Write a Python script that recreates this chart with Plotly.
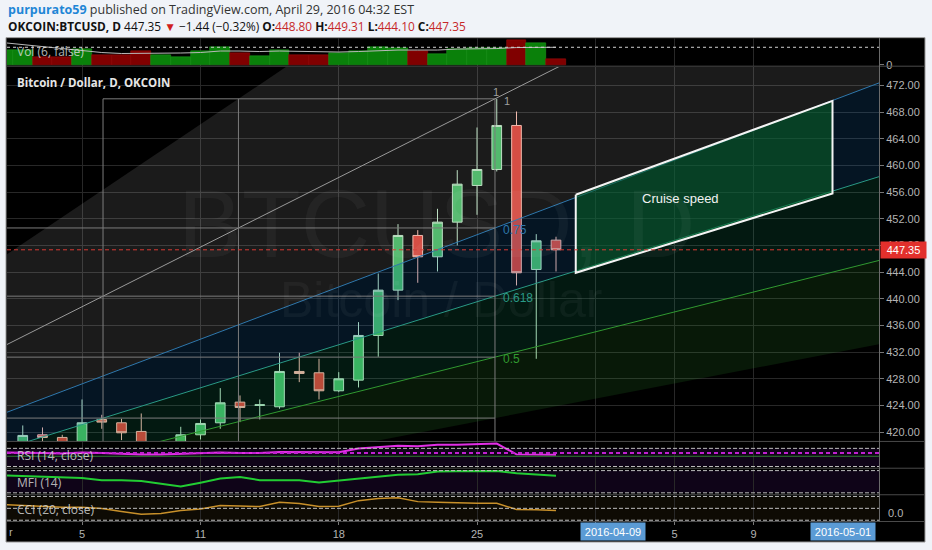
import plotly.graph_objects as go
import pandas as pd

# ---------------- data ----------------
dates = [f"2016-04-{d:02d}" for d in range(1, 30)]
opens = [417.5, 418.2, 419.6, 419.2, 418.3, 421.9, 421.4, 420.1, 418.0, 418.4,
         419.6, 421.4, 424.5, 424.0, 423.8, 429.1, 428.9, 426.2, 427.8, 434.5,
         441.3, 449.5, 446.3, 451.5, 457.0, 459.4, 466.0, 444.4, 448.80]
highs = [418.4, 421.0, 420.7, 419.6, 424.9, 422.6, 422.0, 422.8, 418.55, 420.8,
         421.9, 426.6, 425.5, 424.9, 431.9, 431.9, 431.0, 429.0, 436.5, 443.8,
         451.2, 450.3, 453.5, 459.3, 465.7, 470.0, 468.1, 449.7, 449.31]
lows = [416.2, 417.6, 418.4, 417.9, 417.8, 420.5, 418.8, 417.9, 416.8, 417.9,
        418.9, 420.5, 421.5, 421.9, 423.5, 427.5, 424.9, 426.0, 426.7, 431.3,
        439.8, 442.4, 444.1, 448.0, 452.6, 459.1, 442.0, 431.0, 444.10]
closes = [418.2, 419.5, 419.2, 418.3, 421.4, 421.5, 419.9, 418.0, 418.3, 419.6,
          421.3, 424.4, 423.7, 424.1, 429.1, 428.8, 426.2, 428.0, 434.5, 441.3,
          449.5, 446.3, 451.5, 457.2, 459.4, 466.0, 443.9, 448.7, 447.35]
volume = [1430, 1430, 760, 760, 1530, 930, 930, 1360, 1000, 760,
          1330, 1760, 1160, 830, 1500, 930, 930, 1200, 1330, 1730,
          1660, 1330, 1100, 1600, 1660, 1660, 2430, 2160, 530]
volume_ma = [2230, 2030, 1830, 1630, 1480, 1230, 1130, 1130, 1130, 1180,
             1230, 1380, 1380, 1330, 1380, 1330, 1280, 1280, 1330, 1430,
             1480, 1480, 1480, 1580, 1580, 1630, 1730, 1780, 1760]
volume_level = 1760
rsi = [60.9, 60.9, 59.9, 58.8, 60.9, 59.9, 57.8, 56.7, 56.7, 57.8,
       58.8, 60.9, 59.9, 59.9, 62.0, 62.0, 60.9, 61.6, 69.4, 72.5,
       75.7, 74.6, 77.8, 78.2, 78.8, 80.5, 56.7, 56.1, 56.1]
rsi_bands = [70, 30]
rsi_marks = [59.5, 52.5]
mfi = [67.1, 65.8, 64.5, 62.0, 60.2, 54.2, 54.2, 51.7, 43.9, 37.0,
       47.3, 58.6, 62.7, 54.2, 54.2, 54.2, 47.8, 53.5, 57.6, 63.3,
       68.9, 70.5, 77.4, 78.2, 79.2, 79.2, 73.0, 68.9, 66.4]
mfi_bands = [80, 20]
cci = [31.7, 23.5, 15.2, 9.5, 9.5, -1.2, -25.9, -50.6, -42.4, -17.7,
       -5.3, 23.5, 19.3, 15.2, 50.6, 39.9, 15.2, 17.7, 64.6, 83.5,
       89.3, 56.4, 50.6, 45.7, 42.4, 42.4, -9.5, -11.9, -17.7]
cci_bands = [100, 0, -100]
last_price = 447.35

price_ticks = list(range(420, 473, 4))
date_tickvals = ["2016-04-05", "2016-04-11", "2016-04-18", "2016-04-25",
                 "2016-05-01", "2016-05-05", "2016-05-09"]
date_ticktext = ["5", "11", "18", "25", "", "5", "9"]

# Fib speed resistance fan drawing
fan_start = ("2016-03-04 23:00", 392.5)
fan_end = ("2016-04-25 21:50", 470.0)
fan_levels = [1, 0.75, 0.618, 0.5, 0.382]
fan_time_levels = [0.618, 0.75]
fan_far_time = "2016-05-25"
fan_far_price = 520

# "Cruise speed" box
cruise_t = ["2016-04-30", "2016-05-13", "2016-05-13", "2016-04-30"]
cruise_p = [455.6, 469.7, 455.8, 443.9]
cruise_label = ("2016-05-05 07:00", 455.0)

# ---------------- helpers ----------------
W, H = 932, 550
def PX(x): return x / W
def PY(y): return 1 - y / H

BG = "#f0f3f8"
GRID = "#282828"
AXF = dict(family="Liberation Sans, Arial", size=11, color="#b4b4b4")

tA, pA = pd.Timestamp(fan_start[0]), fan_start[1]
tB, pB = pd.Timestamp(fan_end[0]), fan_end[1]
tF = pd.Timestamp(fan_far_time)
dt = tB - tA
ratio = (tF - tA) / dt

def lvl_price(L):
    return pA + L * (pB - pA)

def far_price(L):
    return pA + L * (pB - pA) * ratio

def time_line_at(tl, price):
    return tA + tl * dt * ((price - pA) / (pB - pA))

fig = go.Figure()

# fan fills
t75 = time_line_at(0.75, fan_far_price)
fig.add_trace(go.Scatter(x=[tA, t75, tF, tF, tA],
                         y=[pA, fan_far_price, fan_far_price, far_price(0.75), pA],
                         fill="toself", fillcolor="rgba(255,255,255,0.105)",
                         line=dict(width=0), mode="lines", hoverinfo="skip"))
fills = [(0.75, 0.618, "rgba(30,130,220,0.16)"),
         (0.618, 0.5, "rgba(20,190,130,0.13)"),
         (0.5, 0.382, "rgba(60,190,60,0.13)")]
for a, b, c in fills:
    fig.add_trace(go.Scatter(x=[tA, tF, tF, tA],
                             y=[pA, far_price(a), far_price(b), pA],
                             fill="toself", fillcolor=c, line=dict(width=0),
                             mode="lines", hoverinfo="skip"))

# fan lines
fan_colors = {1: "#9a9a9a", 0.75: "#2f78ad", 0.618: "#2a9a86", 0.5: "#319a31"}
for L, c in fan_colors.items():
    fig.add_trace(go.Scatter(x=[tA, tF], y=[pA, far_price(L)], mode="lines",
                             line=dict(color=c, width=1), hoverinfo="skip"))

# fib grid
gx, gy = [], []
for L in fan_levels:
    start = tA + 0.618 * dt if L == 1 else tA
    gx += [start, tB, None]
    gy += [lvl_price(L), lvl_price(L), None]
for tl in fan_time_levels + [1.0]:
    gx += [tA + tl * dt, tA + tl * dt, None]
    gy += [pA, pB, None]
fig.add_trace(go.Scatter(x=gx, y=gy, mode="lines",
                         line=dict(color="#7c7c7c", width=1), hoverinfo="skip"))

# cruise speed box
fig.add_trace(go.Scatter(x=cruise_t + cruise_t[:1], y=cruise_p + cruise_p[:1],
                         fill="toself", fillcolor="rgba(10,100,40,0.55)",
                         mode="lines", line=dict(color="#f4f4f4", width=2),
                         hoverinfo="skip"))

# candles
fig.add_trace(go.Candlestick(x=dates, open=opens, high=highs, low=lows, close=closes,
                             increasing=dict(line=dict(color="#b6dcbc", width=1),
                                             fillcolor="#3fb15c"),
                             decreasing=dict(line=dict(color="#efb1a3", width=1),
                                             fillcolor="#d13a2e"),
                             whiskerwidth=0, hoverinfo="skip"))

# volume
vcols = ["#0a800a" if c >= o else "#800000" for o, c in zip(opens, closes)]
vline = ["#1c9a1c" if c >= o else "#9a0c0c" for o, c in zip(opens, closes)]
fig.add_trace(go.Bar(x=dates, y=volume, width=86400000, marker_color=vcols,
                     marker_line=dict(color=vline, width=0.6), yaxis="y2",
                     hoverinfo="skip"))
fig.add_trace(go.Scatter(x=dates, y=volume_ma, mode="lines", yaxis="y2",
                         line=dict(color="#b8b8b8", width=1), hoverinfo="skip"))

# RSI
fig.add_trace(go.Scatter(x=dates, y=rsi, mode="lines", yaxis="y3",
                         line=dict(color="#e22ee6", width=2), hoverinfo="skip"))
# MFI
fig.add_trace(go.Scatter(x=dates, y=mfi, mode="lines", yaxis="y4",
                         line=dict(color="#22cc33", width=2), hoverinfo="skip"))
# CCI
fig.add_trace(go.Scatter(x=dates, y=cci, mode="lines", yaxis="y5",
                         line=dict(color="#c8902a", width=1.5), hoverinfo="skip"))

# ---------------- shapes ----------------
shapes = []
shapes.append(dict(type="rect", xref="paper", yref="paper", x0=PX(6), x1=PX(925),
                   y0=PY(547), y1=PY(38), fillcolor="#000000",
                   line=dict(color="#9a9a9a", width=1), layer="below"))
# bands
shapes.append(dict(type="rect", xref="x domain", yref="y3", x0=0, x1=1,
                   y0=rsi_bands[1], y1=rsi_bands[0], fillcolor="rgba(140,40,220,0.11)",
                   line=dict(width=0), layer="below"))
shapes.append(dict(type="rect", xref="x domain", yref="y4", x0=0, x1=1,
                   y0=mfi_bands[1], y1=mfi_bands[0], fillcolor="rgba(140,40,220,0.11)",
                   line=dict(width=0), layer="below"))
shapes.append(dict(type="rect", xref="x domain", yref="y5", x0=0, x1=1,
                   y0=cci_bands[2], y1=cci_bands[0], fillcolor="rgba(160,120,40,0.09)",
                   line=dict(width=0), layer="below"))
for yr, vals in (("y3", rsi_bands), ("y4", mfi_bands), ("y5", cci_bands)):
    for v in vals:
        shapes.append(dict(type="line", xref="x domain", yref=yr, x0=0, x1=1,
                           y0=v, y1=v, line=dict(color="#bdbdbd", width=1, dash="4px,2px")))
shapes.append(dict(type="line", xref="x domain", yref="y3", x0=0, x1=1,
                   y0=rsi_marks[0], y1=rsi_marks[0],
                   line=dict(color="#c020d0", width=2, dash="4px,3px")))
shapes.append(dict(type="line", xref="x domain", yref="y3", x0=0, x1=1,
                   y0=rsi_marks[1], y1=rsi_marks[1],
                   line=dict(color="#2f7f2f", width=1)))
shapes.append(dict(type="line", xref="x domain", yref="y2", x0=0, x1=1,
                   y0=volume_level, y1=volume_level,
                   line=dict(color="#d0d0d0", width=1, dash="dot")))
shapes.append(dict(type="line", xref="x domain", yref="y", x0=0, x1=1,
                   y0=last_price, y1=last_price,
                   line=dict(color="#d83a34", width=1, dash="4px,3px")))
# pane separators
for yy in (66.8, 445.5, 472.5, 499.3, 526.3):
    shapes.append(dict(type="line", xref="paper", yref="paper", x0=PX(6.5), x1=PX(925),
                       y0=PY(yy), y1=PY(yy), line=dict(color="#4a4a4a", width=1)))
shapes.append(dict(type="line", xref="paper", yref="paper", x0=PX(879.5), x1=PX(879.5),
                   y0=PY(38.5), y1=PY(526.3), line=dict(color="#6a6a6a", width=1)))

# ---------------- annotations ----------------
ann = []
def A(text, x, y, size=12, color="#ddd", xanchor="left", family="Open Sans", **kw):
    d = dict(text=text, x=x, y=y, xref="paper", yref="paper", showarrow=False,
             xanchor=xanchor, yanchor="middle", font=dict(family=family, size=size, color=color))
    d.update(kw)
    ann.append(d)

red = "#c62828"
A("<span style='color:#1f86d6'><b>purpurato59</b></span> published on TradingView.com, April 29, 2016 04:32 EST",
  PX(6), PY(10), size=12.5, color="#333333")
A("<b>OKCOIN:BTCUSD, D</b> 447.35 <span style='color:#d01f1f'>▼</span> \u22121.44 (\u22120.32%) "
  f"<b>O:</b><span style='color:{red}'>448.80</span> <b>H:</b><span style='color:{red}'>449.31</span> "
  f"<b>L:</b><span style='color:{red}'>444.10</span> <b>C:</b><span style='color:{red}'>447.35</span>",
  PX(6), PY(26.5), size=11.85, color="#111111")
A("<b>Bitcoin / Dollar, D, OKCOIN</b>", PX(15), PY(83), size=11.5, color="#e6e6e6")
A("BTCUSD, D", PX(436), PY(226), size=96, color="rgba(255,255,255,0.045)",
  xanchor="center", family="Liberation Sans, Arial")
A("Bitcoin / Dollar", PX(441), PY(303), size=50, color="rgba(255,255,255,0.045)",
  xanchor="center", family="Liberation Sans, Arial")
A("Vol (6, false)", PX(15), PY(52), size=12, color="rgba(225,225,225,0.8)")
A("RSI (14, close)", PX(15), PY(460), size=12, color="rgba(225,225,225,0.8)")
A("MFI (14)", PX(15), PY(487), size=12, color="rgba(225,225,225,0.8)")
A("CCI (20, close)", PX(15), PY(514), size=12, color="rgba(225,225,225,0.8)")
A("r", PX(7), PY(536.5), size=11, color="#b4b4b4", family="Liberation Sans, Arial")
A("0.0", PX(886), PY(517.7), size=11, color="#b4b4b4", family="Liberation Sans, Arial")
A("2016-04-09", PX(612.5), PY(536.5), size=11, color="#ffffff", xanchor="center",
  family="Liberation Sans, Arial", bgcolor="#5b9bd5", width=62, height=15)
A("2016-05-01", PX(842.5), PY(536.5), size=11, color="#ffffff", xanchor="center",
  family="Liberation Sans, Arial", bgcolor="#5b9bd5", width=62, height=15)

# price label
ann.append(dict(text="447.35", x=PX(880), y=last_price, xref="paper", yref="y",
                showarrow=False, xanchor="left", yanchor="middle", bgcolor="#e2302c",
                width=43, height=14, font=dict(family="Liberation Sans, Arial", size=11, color="#ffffff")))
# fan labels
fl = dict(xref="x", yref="y", showarrow=False, xanchor="left", yanchor="middle",
          font=dict(family="Liberation Sans, Arial", size=12))
for L, c, txt in ((0.75, "#2f78ad", "0.75"), (0.618, "#2a9a86", "0.618"), (0.5, "#319a31", "0.5")):
    d = dict(fl, text=txt, x=tB, y=lvl_price(L), xshift=6, yshift=-2)
    d["font"] = dict(fl["font"], color=c)
    ann.append(d)
ann.append(dict(fl, text="1", x=tB, y=pB, xanchor="center", xshift=1, yshift=7,
                font=dict(family="Liberation Sans, Arial", size=11, color="#a0a0a0")))
ann.append(dict(fl, text="1", x=tB, y=pB, xshift=7, yshift=-2,
                font=dict(family="Liberation Sans, Arial", size=11, color="#a0a0a0")))
ann.append(dict(text="Cruise speed", x=cruise_label[0], y=cruise_label[1], xref="x", yref="y",
                showarrow=False, font=dict(family="Liberation Sans, Arial", size=13, color="#f2f2f2")))

# ---------------- layout ----------------
def side_axis(domain, rng, **kw):
    d = dict(domain=domain, range=rng, side="right", anchor="x", showgrid=False,
             zeroline=False, showline=False, fixedrange=True, tickfont=AXF,
             showticklabels=False, ticks="")
    d.update(kw)
    return d

fig.update_layout(
    width=W, height=550, margin=dict(l=0, r=0, t=0, b=0),
    paper_bgcolor=BG, plot_bgcolor="#000000", showlegend=False,
    shapes=shapes, annotations=ann, bargap=0,
    xaxis=dict(type="date", domain=[PX(7), PX(879)],
               range=["2016-04-01 04:52", "2016-05-15 08:30"], anchor="y5",
               tickvals=date_tickvals, ticktext=date_ticktext, showgrid=True,
               gridcolor=GRID, gridwidth=1, ticks="outside", ticklen=3, tickcolor="#777",
               tickfont=AXF, zeroline=False, showline=False, rangeslider=dict(visible=False)),
    yaxis=side_axis([PY(445.5), PY(67.5)], [418.6, 474.79], showticklabels=True,
                    tickvals=price_ticks, ticktext=[f"{v:.2f}" for v in price_ticks],
                    showgrid=True, gridcolor=GRID, ticks="outside", ticklen=4, tickcolor="#777"),
    yaxis2=side_axis([PY(66.5), PY(38.5)], [-120, 2680], showticklabels=True,
                     tickvals=[0], ticktext=["0"], ticks="outside", ticklen=4, tickcolor="#777"),
    yaxis3=side_axis([PY(472), PY(446)], [27.3, 84.1]),
    yaxis4=side_axis([PY(499), PY(473)], [15.6, 85.15]),
    yaxis5=side_axis([PY(526), PY(499.8)], [-108.2, 109.9]),
)

fig.write_html("out.html", config={"displayModeBar": False},
               post_script="document.body.style.margin='0';document.body.style.background='" + BG + "';")
